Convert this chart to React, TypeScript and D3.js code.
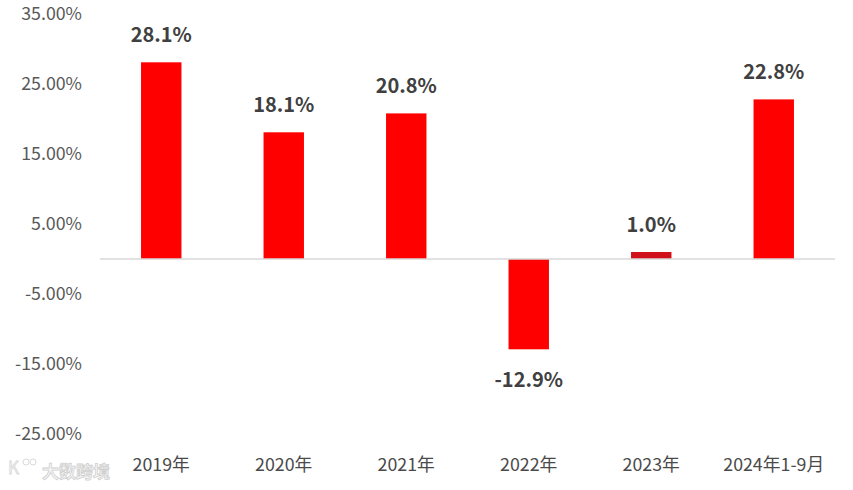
import React from "react";
import * as d3 from "d3";

const categories = ["2019年", "2020年", "2021年", "2022年", "2023年", "2024年1-9月"];
const values = [28.1, 18.1, 20.8, -12.9, 1.0, 22.8];
const tickValues = [35, 25, 15, 5, -5, -15, -25];

const W = 853;
const H = 490;
const font = "'Noto Sans CJK SC', 'Noto Sans', sans-serif";

export default function App() {
  const x = d3.scaleBand<string>().domain(categories).range([100, 835]).paddingInner(0.67).paddingOuter(0.335);
  const y = d3.scaleLinear().domain([-25, 35]).range([434, 14]);
  const y0 = y(0);
  return (
    <svg width={W} height={H} style={{ position: "absolute", left: 0, top: 0, background: "#fff" }}>
      {tickValues.map((t) => (
        <text key={t} x={82} y={y(t)} dy="0.35em" textAnchor="end" fontFamily={font} fontSize={17.8} fill="#595959">
          {t.toFixed(2) + "%"}
        </text>
      ))}
      {categories.map((c, i) => {
        const v = values[i];
        const bx = x(c)!;
        const bw = x.bandwidth();
        const top = Math.min(y(v), y0);
        const h = Math.abs(y(v) - y0);
        const cx = bx + bw / 2;
        return (
          <g key={c}>
            <rect x={bx} y={top} width={bw} height={h} fill={v < 1.5 && v > 0 ? "#d0101a" : "#ff0000"} />
            <text
              x={cx}
              y={v >= 0 ? y(v) - 20 : y(v) + 38}
              textAnchor="middle"
              fontFamily={font}
              fontSize={20}
              fontWeight="bold"
              fill="#404040"
            >
              {v.toFixed(1) + "%"}
            </text>
            <text x={cx} y={465} dy="0.35em" textAnchor="middle" fontFamily={font} fontSize={17.8} fill="#4a4a4a">
              {c}
            </text>
          </g>
        );
      })}
      <line x1={100} x2={835} y1={y0} y2={y0} stroke="#d9d9d9" strokeWidth={1.5} />
      <g opacity={0.55}>
        <text x={8} y={474} fontFamily={font} fontSize={17} fill="#e8e8e8" stroke="#bbbbbb" strokeWidth={0.8}>
          K
        </text>
        <circle cx={26} cy={462} r={3} fill="none" stroke="#bbbbbb" strokeWidth={1} />
        <circle cx={33} cy={462} r={3} fill="none" stroke="#bbbbbb" strokeWidth={1} />
        <text x={42} y={478} fontFamily={font} fontSize={17} fontWeight="bold" fill="#eeeeee" stroke="#aaaaaa" strokeWidth={0.8}>
          大数跨境
        </text>
      </g>
    </svg>
  );
}
